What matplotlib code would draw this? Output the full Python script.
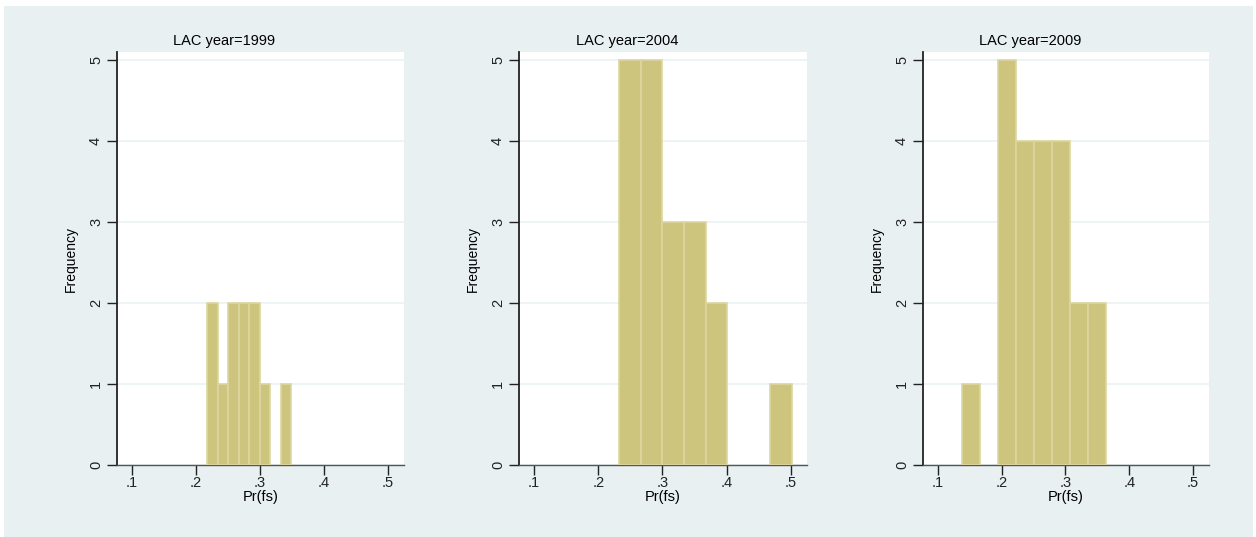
import numpy as np
import matplotlib
matplotlib.use("Agg")
import matplotlib.pyplot as plt
from matplotlib.patches import Rectangle

plt.rcParams['font.family'] = ['Liberation Sans', 'DejaVu Sans']

# ---- data ----
titles = ["LAC year=1999", "LAC year=2004", "LAC year=2009"]
bin_starts = [0.2177, 0.2326, 0.1382]
bin_widths = [0.0164, 0.0336, 0.0282]
counts_1999 = [2, 1, 2, 2, 2, 1, 0, 1]
counts_2004 = [5, 5, 3, 3, 2, 0, 0, 1]
counts_2009 = [1, 0, 5, 4, 4, 4, 2, 2]
all_counts = [counts_1999, counts_2004, counts_2009]
x_ticks = [0.1, 0.2, 0.3, 0.4, 0.5]
x_ticklabels = [".1", ".2", ".3", ".4", ".5"]
y_ticks = [0, 1, 2, 3, 4, 5]
x_label = "Pr(fs)"
y_label = "Frequency"

W, H = 1256, 537
fig = plt.figure(figsize=(W / 100, H / 100), dpi=100)
fig.patch.set_facecolor("white")

bg = "#e8f0f2"
fig.patches.append(Rectangle((4 / W, 0), (1253 - 4) / W, (H - 6) / H,
                             transform=fig.transFigure, facecolor=bg,
                             edgecolor="none", zorder=-10))

panels_px = [(117, 404), (519, 807), (923, 1209)]
top_px, bot_px = 52, 465
bar_color = "#cdc47e"
edge_color = "#ddd6a2"

for i, ((x0, x1), counts) in enumerate(zip(panels_px, all_counts)):
    ax = fig.add_axes([x0 / W, (H - bot_px) / H, (x1 - x0) / W, (bot_px - top_px) / H])
    ax.set_facecolor("white")
    counts = np.asarray(counts)
    edges = bin_starts[i] + bin_widths[i] * np.arange(len(counts))
    nz = counts > 0
    ax.bar(edges[nz], counts[nz], width=bin_widths[i], align="edge",
           color=bar_color, edgecolor=edge_color, linewidth=1.2, zorder=3)
    ax.set_xlim(0.0766, 0.525)
    ax.set_ylim(0, 5.1)
    ax.set_xticks(x_ticks)
    ax.set_xticklabels(x_ticklabels)
    ax.set_yticks(y_ticks)
    ax.set_yticklabels([str(v) for v in y_ticks], rotation=90, va="center")
    ax.grid(axis="y", color="#eaf2f3", linewidth=1.2, zorder=1)
    ax.set_axisbelow(True)
    for s in ["top", "right"]:
        ax.spines[s].set_visible(False)
    ax.spines["left"].set_color("#222222")
    ax.spines["left"].set_linewidth(1.3)
    ax.spines["bottom"].set_color("#555555")
    ax.spines["bottom"].set_linewidth(1.0)
    ax.tick_params(axis="both", direction="out", length=7, width=1.0,
                   colors="#222222", labelsize=10.5)
    ax.tick_params(axis="x", pad=1)
    ax.tick_params(axis="y", pad=3)
    ax.set_xlabel(x_label, fontsize=10.5, labelpad=0)
    ax.set_ylabel(y_label, fontsize=10, labelpad=8)
    cx = (x0 + x1) / 2 - 36
    fig.text(cx / W, 1 - 41 / H, titles[i], ha="center", va="center", fontsize=10.5)

fig.savefig("out.png", dpi=100, facecolor=fig.get_facecolor())
